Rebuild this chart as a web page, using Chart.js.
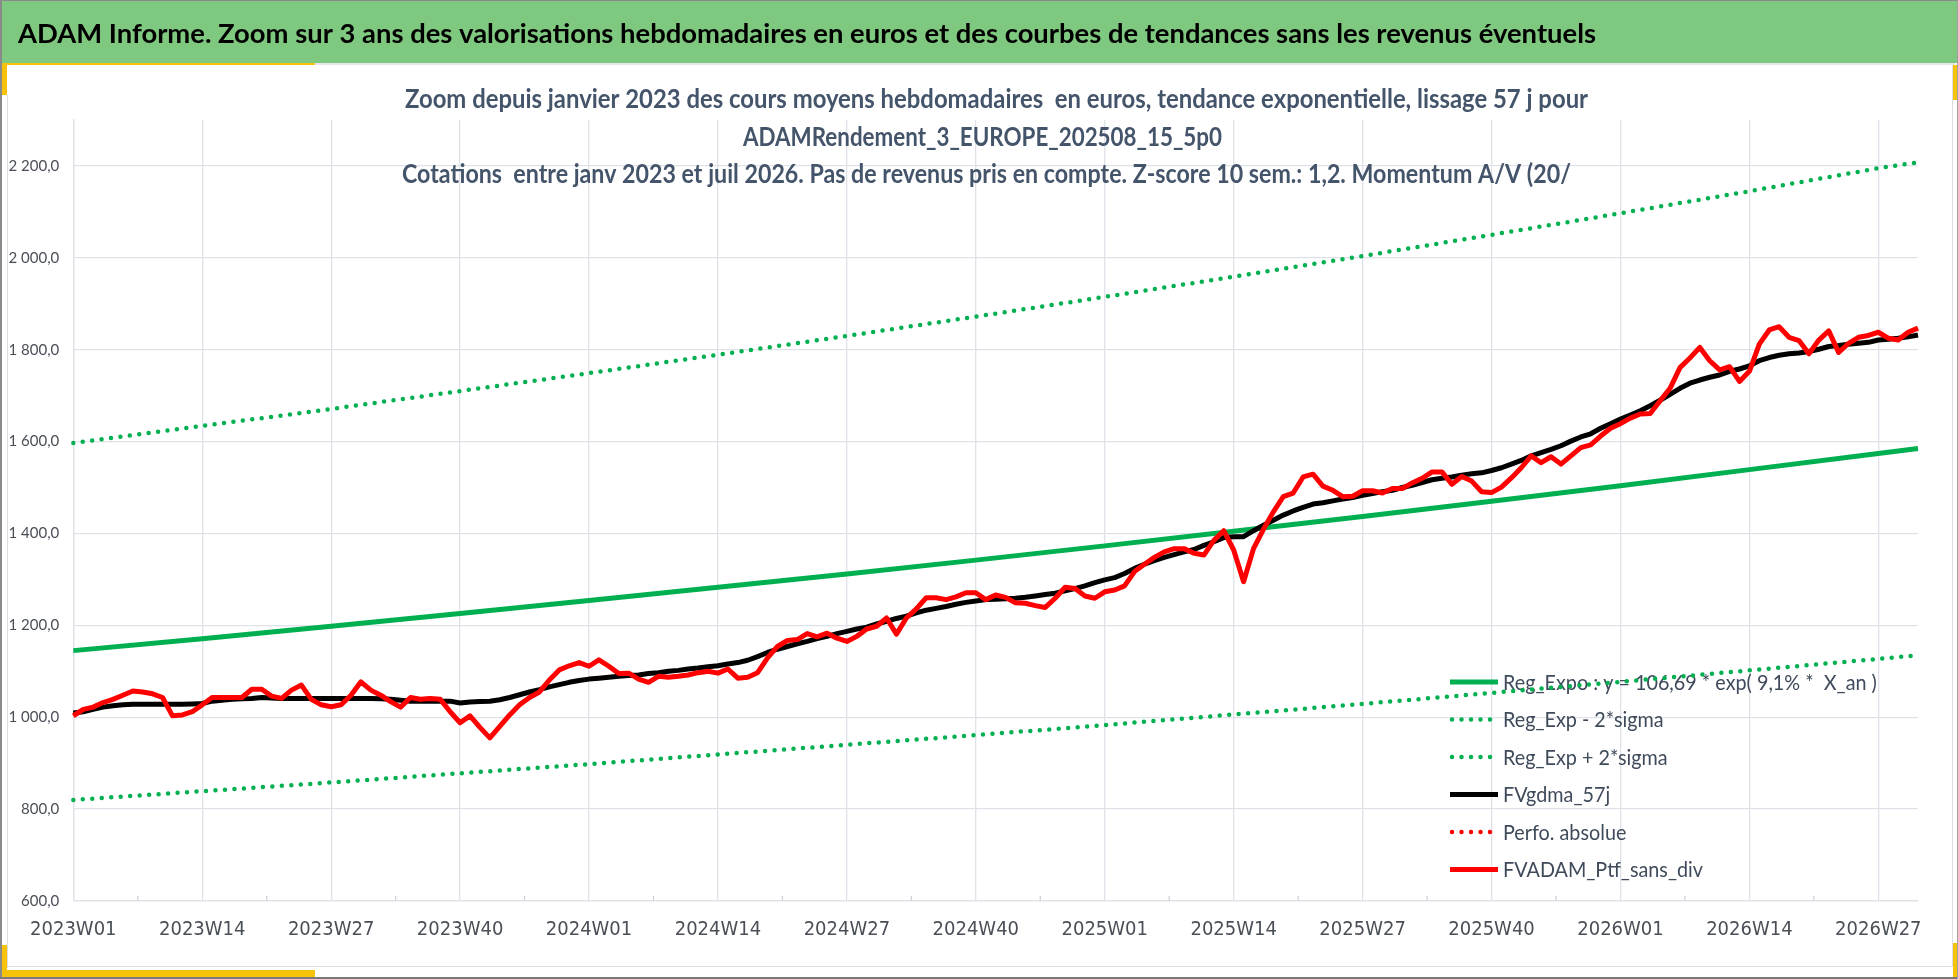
<!DOCTYPE html>
<html><head><meta charset="utf-8">
<script src="https://cdn.jsdelivr.net/npm/chart.js@4.4.1/dist/chart.umd.min.js"></script>
<style>
html,body{margin:0;padding:0;background:#fff;}
#wrap{position:relative;width:1958px;height:979px;overflow:hidden;background:#fff;}
.d{position:absolute;}
canvas{position:absolute;left:0;top:0;}
</style></head><body>
<div id="wrap">
  <div class="d" style="left:0;top:0;width:1958px;height:63px;background:#7fc87f;"></div>
  <!-- light inner frame -->
  <div class="d" style="left:315px;top:63px;width:1640px;height:2px;background:#e4e6ea;"></div>
  <div class="d" style="left:7px;top:95px;width:1px;height:873px;background:#dcdde0;"></div>
  <div class="d" style="left:7px;top:966px;width:1946px;height:1px;background:#dcdde0;"></div>
  <div class="d" style="left:1952px;top:65px;width:1px;height:902px;background:#dcdde0;"></div>
  <!-- yellow accents -->
  <div class="d" style="left:0;top:63px;width:315px;height:2px;background:#f7c20a;"></div>
  <div class="d" style="left:2px;top:63px;width:5px;height:32px;background:#f7c20a;"></div>
  <div class="d" style="left:2px;top:945px;width:5px;height:32px;background:#f7c20a;"></div>
  <div class="d" style="left:2px;top:970px;width:313px;height:7px;background:#f7c20a;"></div>
  <div class="d" style="left:1953px;top:65px;width:4px;height:35px;background:#f7c20a;"></div>
  <div class="d" style="left:1953px;top:943px;width:4px;height:34px;background:#f7c20a;"></div>
  <!-- outer border -->
  <div class="d" style="left:0;top:0;width:1958px;height:1px;background:#8a8a8a;"></div>
  <div class="d" style="left:0;top:0;width:2px;height:979px;background:#8a8a8a;"></div>
  <div class="d" style="left:0;top:977px;width:1958px;height:2px;background:#7a7a7a;"></div>
  <div class="d" style="left:1957px;top:0;width:1px;height:979px;background:#a0a0a0;"></div>
  <canvas id="c" width="1958" height="979"></canvas>
</div>
<script>
// ---------- DATA ----------
const years = [2023, 2024, 2025, 2026];
const weeksInYear = [52, 52, 52, 31];
const categories = [];
years.forEach((y, i) => { for (let w = 1; w <= weeksInYear[i]; w++) categories.push(y + 'W' + String(w).padStart(2, '0')); });

const headerTitle = "ADAM Informe. Zoom sur 3 ans des valorisations hebdomadaires en euros et des courbes de tendances sans les revenus éventuels";
const subtitleLines = [
  "Zoom depuis janvier 2023 des cours moyens hebdomadaires  en euros, tendance exponentielle, lissage 57 j pour",
  "ADAMRendement_3_EUROPE_202508_15_5p0",
  "Cotations  entre janv 2023 et juil 2026. Pas de revenus pris en compte. Z-score 10 sem.: 1,2. Momentum A/V (20/"
];

// FVADAM_Ptf_sans_div (weekly, 2023W01 .. 2026W31)
const fvadam = [
1003,1017,1022,1032,1039,1048,1057,1055,1051,1043,1003,1005,1012,1027,1043,1043,1043,1043,1061,1061,
1046,1041,1059,1070,1039,1027,1023,1027,1048,1077,1059,1048,1034,1022,1043,1039,1041,1039,1012,988,
1003,978,955,980,1005,1027,1043,1055,1081,1103,1112,1119,1111,1125,1111,1095,1096,1083,1076,1089,
1087,1089,1092,1097,1100,1096,1105,1085,1087,1097,1129,1154,1167,1169,1182,1175,1183,1172,1165,1176,
1192,1198,1216,1181,1216,1236,1260,1260,1256,1262,1271,1271,1256,1266,1261,1249,1248,1243,1239,1259,
1283,1280,1264,1259,1273,1277,1286,1317,1333,1348,1360,1367,1367,1357,1353,1385,1406,1364,1295,1367,
1409,1447,1480,1488,1523,1529,1503,1494,1480,1481,1493,1493,1488,1498,1498,1510,1520,1534,1534,1507,
1524,1514,1491,1489,1501,1521,1543,1569,1554,1567,1551,1569,1587,1593,1612,1629,1639,1651,1660,1661,
1689,1716,1761,1782,1805,1776,1756,1763,1731,1753,1812,1843,1850,1827,1820,1791,1821,1841,1794,1814,
1827,1831,1838,1825,1821,1838,1847
];

// FVgdma_57j (weekly)
const fvgdma = [
1009,1012,1017,1022,1025,1027,1028,1028,1028,1028,1028,1028,1029,1030,1035,1037,1039,1040,1041,1043,
1042,1041,1041,1041,1041,1041,1041,1041,1041,1041,1041,1040,1039,1037,1035,1035,1035,1035,1035,1031,
1033,1034,1035,1038,1043,1049,1055,1060,1066,1071,1076,1080,1083,1085,1087,1089,1091,1092,1095,1097,
1100,1102,1105,1107,1110,1112,1116,1119,1124,1132,1141,1148,1154,1160,1165,1171,1176,1182,1187,1192,
1196,1203,1209,1215,1220,1227,1233,1237,1241,1246,1250,1253,1256,1257,1258,1259,1261,1264,1267,1270,
1275,1280,1286,1293,1299,1304,1313,1324,1333,1341,1348,1354,1360,1365,1374,1382,1391,1393,1393,1406,
1418,1429,1440,1449,1457,1464,1467,1471,1475,1478,1483,1487,1491,1494,1500,1505,1511,1517,1520,1523,
1527,1530,1532,1537,1543,1551,1559,1569,1576,1583,1591,1601,1610,1617,1629,1639,1649,1658,1667,1678,
1690,1703,1716,1727,1734,1740,1745,1753,1758,1765,1776,1783,1788,1791,1793,1796,1801,1807,1809,1812,
1814,1816,1821,1823,1825,1828,1832
];

// Perfo. absolue : no visible mark in the reference
const perfoAbsolue = [];

// Trend lines, read at the labelled weeks
const trendWeeks = ['2023W01','2023W14','2023W27','2023W40','2024W01','2024W14','2024W27','2024W40',
                    '2025W01','2025W14','2025W27','2025W40','2026W01','2026W14','2026W27','2026W31'];
const regExpo  = [1145,1171,1198,1226,1254,1283,1312,1342,1373,1405,1437,1470,1504,1539,1574,1585];
const regMinus = [820,839,858,878,898,919,940,961,983,1006,1029,1053,1077,1102,1127,1135];
const regPlus  = [1597,1634,1671,1710,1749,1789,1830,1872,1915,1959,2004,2050,2097,2145,2195,2208];

const yMin = 600, yMax = 2300, yStep = 200;
const labelEvery = 13;

// ---------- HELPERS ----------
const pts = arr => arr.map((v, i) => ({ x: trendWeeks[i], y: v }));
function frNum(v) {
  const p = v.toFixed(1).split('.');
  return p[0].replace(/\B(?=(\d{3})+(?!\d))/g, ' ') + ',' + p[1];
}
function fitText(ctx, text, x, baseline, width, font, color) {
  ctx.save();
  ctx.font = font;
  ctx.fillStyle = color;
  ctx.textAlign = 'left';
  ctx.textBaseline = 'alphabetic';
  const w = ctx.measureText(text).width;
  ctx.translate(x, baseline);
  ctx.scale(width / w, 1);
  ctx.fillText(text, 0, 0);
  ctx.restore();
}

const GREEN = '#00b050', RED = '#ff0000', BLACK = '#000000';
const GRID = '#dfe2e8';
const DOT = [0, 9.5];

const legendOrder = ['Reg_Expo : y = 106,69 * exp( 9,1% *  X_an )', 'Reg_Exp - 2*sigma', 'Reg_Exp + 2*sigma',
                     'FVgdma_57j', 'Perfo. absolue', 'FVADAM_Ptf_sans_div'];

const deco = {
  id: 'deco',
  beforeDatasetsDraw(chart) {
    const ctx = chart.ctx, xs = chart.scales.x, a = chart.chartArea;
    // small tick marks between labelled weeks
    ctx.save();
    ctx.strokeStyle = '#cfd3da';
    ctx.lineWidth = 1.3;
    for (let k = labelEvery / 2; k < categories.length; k += labelEvery) {
      const px = xs.getPixelForValue(k);
      ctx.beginPath(); ctx.moveTo(px, a.bottom); ctx.lineTo(px, a.bottom - 5); ctx.stroke();
    }
    ctx.restore();
    // legend (drawn under the lines, like the reference)
    const lx = a.right - 468, tx = a.right - 415;
    ctx.save();
    ctx.font = '21px Lato';
    const s = 200 / ctx.measureText('FVADAM_Ptf_sans_div').width;
    ctx.restore();
    legendOrder.forEach((lab, i) => {
      const ds = chart.data.datasets.find(d => d.label === lab);
      const base = 689.5 + i * 37.5;
      const cy = base - 7.5;
      ctx.save();
      ctx.strokeStyle = ds.borderColor;
      ctx.lineWidth = ds.borderWidth;
      ctx.setLineDash(ds.borderDash || []);
      ctx.lineCap = ds.borderCapStyle || 'butt';
      ctx.beginPath();
      ctx.moveTo(lx + (ds.borderDash ? 2 : 0), cy);
      ctx.lineTo(lx + 48, cy);
      ctx.stroke();
      ctx.restore();
      ctx.save();
      ctx.font = '21px Lato';
      ctx.fillStyle = '#3f4a5a';
      ctx.translate(tx, base);
      ctx.scale(s, 1);
      ctx.fillText(lab, 0, 0);
      ctx.restore();
    });
  },
  afterDraw(chart) {
    const ctx = chart.ctx;
    fitText(ctx, headerTitle, 18, 42.7, 1578, 'bold 26px Lato', '#000000');
    const starts = [405, 743, 402], widths = [1183, 479, 1169], bases = [108.3, 146, 182.7];
    subtitleLines.forEach((t, i) => fitText(ctx, t, starts[i], bases[i], widths[i], 'bold 26px Lato', '#44546a'));
  }
};

new Chart(document.getElementById('c'), {
  type: 'line',
  data: {
    labels: categories,
    datasets: [
      { label: 'FVADAM_Ptf_sans_div', data: fvadam, borderColor: RED, borderWidth: 5, order: 0 },
      { label: 'FVgdma_57j', data: fvgdma, borderColor: BLACK, borderWidth: 5, order: 1 },
      { label: 'Perfo. absolue', data: perfoAbsolue, borderColor: RED, borderWidth: 4.5, borderDash: DOT, borderCapStyle: 'round', order: 2 },
      { label: 'Reg_Expo : y = 106,69 * exp( 9,1% *  X_an )', data: pts(regExpo), borderColor: GREEN, borderWidth: 5, order: 3 },
      { label: 'Reg_Exp - 2*sigma', data: pts(regMinus), borderColor: GREEN, borderWidth: 4.5, borderDash: DOT, borderCapStyle: 'round', order: 4 },
      { label: 'Reg_Exp + 2*sigma', data: pts(regPlus), borderColor: GREEN, borderWidth: 4.5, borderDash: DOT, borderCapStyle: 'round', order: 5 }
    ]
  },
  options: {
    responsive: false,
    animation: false,
    events: [],
    devicePixelRatio: 1,
    layout: { padding: { top: 120, right: 40, bottom: 0, left: 0 } },
    elements: {
      point: { radius: 0 },
      line: { tension: 0, borderJoinStyle: 'round', fill: false }
    },
    plugins: { legend: { display: false }, tooltip: { enabled: false }, title: { display: false } },
    scales: {
      x: {
        type: 'category',
        offset: false,
        grid: {
          drawTicks: false,
          lineWidth: 1.3,
          color: c => (c.index % labelEvery === 0 ? GRID : 'rgba(0,0,0,0)')
        },
        border: { color: GRID, width: 1.3 },
        ticks: {
          autoSkip: false,
          maxRotation: 0,
          padding: 17,
          color: '#4a4f57',
          font: { family: "'Liberation Sans Narrow', 'DejaVu Sans Condensed', Lato", size: 20 },
          callback: (v, i) => (i % labelEvery === 0 ? categories[i] : '')
        },
        afterFit: s => { s.height = 78; }
      },
      y: {
        min: yMin, max: yMax,
        grid: { drawTicks: false, color: GRID, lineWidth: 1.3 },
        border: { color: GRID, width: 1.3 },
        ticks: {
          stepSize: yStep,
          padding: 14,
          color: '#4a4f57',
          font: { family: 'Lato', size: 15 },
          callback: v => frNum(v)
        },
        afterBuildTicks: s => { s.ticks = s.ticks.filter(t => (t.value - yMin) % yStep === 0); },
        afterFit: s => { s.width = 73.3; }
      }
    }
  },
  plugins: [deco]
});
</script>
</body></html>
